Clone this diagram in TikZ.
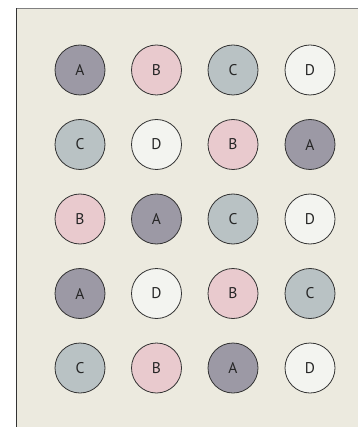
\documentclass[tikz,border=0pt]{standalone}
\usepackage{fontspec}
\setmainfont{PT Sans}
\definecolor{bg}{HTML}{ECEADF}
\definecolor{cA}{HTML}{9C99A5}
\definecolor{cB}{HTML}{E9CACE}
\definecolor{cC}{HTML}{B9C2C4}
\definecolor{cD}{HTML}{F3F4F0}
\tikzset{
  dot/.style={circle, draw=black!80, line width=0.8pt, minimum size=50pt, inner sep=0pt, font=\fontsize{15.5}{15.5}\selectfont, text=black!85},
  dA/.style={dot, fill=cA}, dB/.style={dot, fill=cB}, dC/.style={dot, fill=cC}, dD/.style={dot, fill=cD}
}
\begin{document}
\begin{tikzpicture}[x=1pt,y=-1pt]
\useasboundingbox (0,0) rectangle (358,427);
\fill[white] (0,0) rectangle (358,427);
\fill[bg] (16.5,8.5) rectangle (358,427);
\draw[gray, line width=1pt] (16.5,8.5) -- (358,8.5);
\draw[black!80, line width=1pt] (16.5,8.5) -- (16.5,427);
\def\xa{80}\def\xb{156.5}\def\xc{233}\def\xd{310}
\def\ya{70}\def\yb{144.5}\def\yc{219}\def\yd{293.5}\def\ye{368}
\node[dA] (r1a) at (\xa,\ya) {A};
\node[dB] (r1b) at (\xb,\ya) {B};
\node[dC] (r1c) at (\xc,\ya) {C};
\node[dD] (r1d) at (\xd,\ya) {D};
\node[dC] (r2a) at (\xa,\yb) {C};
\node[dD] (r2b) at (\xb,\yb) {D};
\node[dB] (r2c) at (\xc,\yb) {B};
\node[dA] (r2d) at (\xd,\yb) {A};
\node[dB] (r3a) at (\xa,\yc) {B};
\node[dA] (r3b) at (\xb,\yc) {A};
\node[dC] (r3c) at (\xc,\yc) {C};
\node[dD] (r3d) at (\xd,\yc) {D};
\node[dA] (r4a) at (\xa,\yd) {A};
\node[dD] (r4b) at (\xb,\yd) {D};
\node[dB] (r4c) at (\xc,\yd) {B};
\node[dC] (r4d) at (\xd,\yd) {C};
\node[dC] (r5a) at (\xa,\ye) {C};
\node[dB] (r5b) at (\xb,\ye) {B};
\node[dA] (r5c) at (\xc,\ye) {A};
\node[dD] (r5d) at (\xd,\ye) {D};
\end{tikzpicture}
\end{document}
